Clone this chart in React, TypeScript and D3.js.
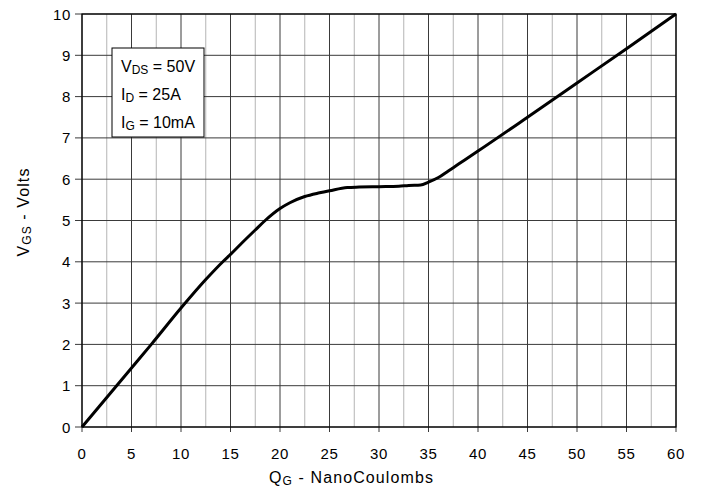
import React from "react";
import * as d3 from "d3";

const chargeNC = [0, 5, 7, 10, 12.5, 14.3, 15, 16, 17.5, 18.5, 20, 21, 22.5, 24, 25, 26.8, 28, 30, 32, 33, 34.2, 35, 36, 37, 38, 40, 45, 50, 55, 60];
const gateVolts = [0, 1.43, 2, 2.88, 3.57, 4.02, 4.18, 4.42, 4.77, 5.0, 5.29, 5.43, 5.58, 5.67, 5.72, 5.8, 5.81, 5.82, 5.83, 5.85, 5.86, 5.93, 6.04, 6.2, 6.36, 6.68, 7.5, 8.33, 9.16, 10];
const xTicks = [0, 5, 10, 15, 20, 25, 30, 35, 40, 45, 50, 55, 60];
const xMinor = [2.5, 7.5, 12.5, 17.5, 22.5, 27.5, 32.5, 37.5, 42.5, 47.5, 52.5, 57.5];
const yTicks = [0, 1, 2, 3, 4, 5, 6, 7, 8, 9, 10];
const legendLines = [
  { main: "V", sub: "DS", rest: " = 50V" },
  { main: "I", sub: "D", rest: " = 25A" },
  { main: "I", sub: "G", rest: " = 10mA" },
];

const W = 704, H = 492;
const L = 82, R = 676, T = 14, B = 427;
const FONT = "Liberation Sans, Arial, Helvetica, sans-serif";

export default function App() {
  const x = d3.scaleLinear().domain([0, 60]).range([L, R]);
  const y = d3.scaleLinear().domain([0, 10]).range([B, T]);
  const pts: [number, number][] = chargeNC.map((q, i) => [q, gateVolts[i]]);
  const line = d3.line<[number, number]>().x(d => x(d[0])).y(d => y(d[1])).curve(d3.curveMonotoneX);

  return (
    <svg width={W} height={H} style={{ position: "absolute", left: 0, top: 0, background: "#fff" }} fontFamily={FONT}>
      <rect x={0} y={0} width={W} height={H} fill="#fff" />
      {xMinor.map(v => (
        <line key={"m" + v} x1={x(v)} x2={x(v)} y1={T} y2={B} stroke="#b4b4b4" strokeWidth={1} />
      ))}
      {xTicks.map(v => (
        <line key={"x" + v} x1={x(v)} x2={x(v)} y1={T} y2={B + 5} stroke="#3a3a3a" strokeWidth={1} />
      ))}
      {yTicks.map(v => (
        <line key={"y" + v} x1={L - 7} x2={R} y1={y(v)} y2={y(v)} stroke="#3a3a3a" strokeWidth={1} />
      ))}
      <rect x={L} y={T} width={R - L} height={B - T} fill="none" stroke="#000" strokeWidth={1.2} />
      <path d={line(pts) || ""} fill="none" stroke="#000" strokeWidth={3} strokeLinejoin="round" />
      {xTicks.map(v => (
        <text key={"xl" + v} x={x(v)} y={459} textAnchor="middle" fontSize={15} letterSpacing={0.6} fill="#000">{v}</text>
      ))}
      {yTicks.map(v => (
        <text key={"yl" + v} x={71} y={y(v) + 5.5} textAnchor="end" fontSize={15} letterSpacing={0.6} fill="#000">{v}</text>
      ))}
      <rect x={112} y={48} width={92} height={89} fill="#fff" stroke="#000" strokeWidth={1} />
      {legendLines.map((l, i) => (
        <text key={"lg" + i} x={121} y={72 + i * 28} fontSize={16} fill="#000">
          {l.main}
          <tspan fontSize={12} dy={2}>{l.sub}</tspan>
          <tspan dy={-2}>{l.rest}</tspan>
        </text>
      ))}
      <text x={269} y={483} fontSize={16} letterSpacing={1.1} fill="#000">
        Q<tspan fontSize={12} dy={2}>G</tspan><tspan dy={-2}> - NanoCoulombs</tspan>
      </text>
      <text transform={`translate(29,212) rotate(-90)`} textAnchor="middle" fontSize={16} letterSpacing={1.1} fill="#000">
        V<tspan fontSize={12} dy={2}>GS</tspan><tspan dy={-2}> - Volts</tspan>
      </text>
    </svg>
  );
}
